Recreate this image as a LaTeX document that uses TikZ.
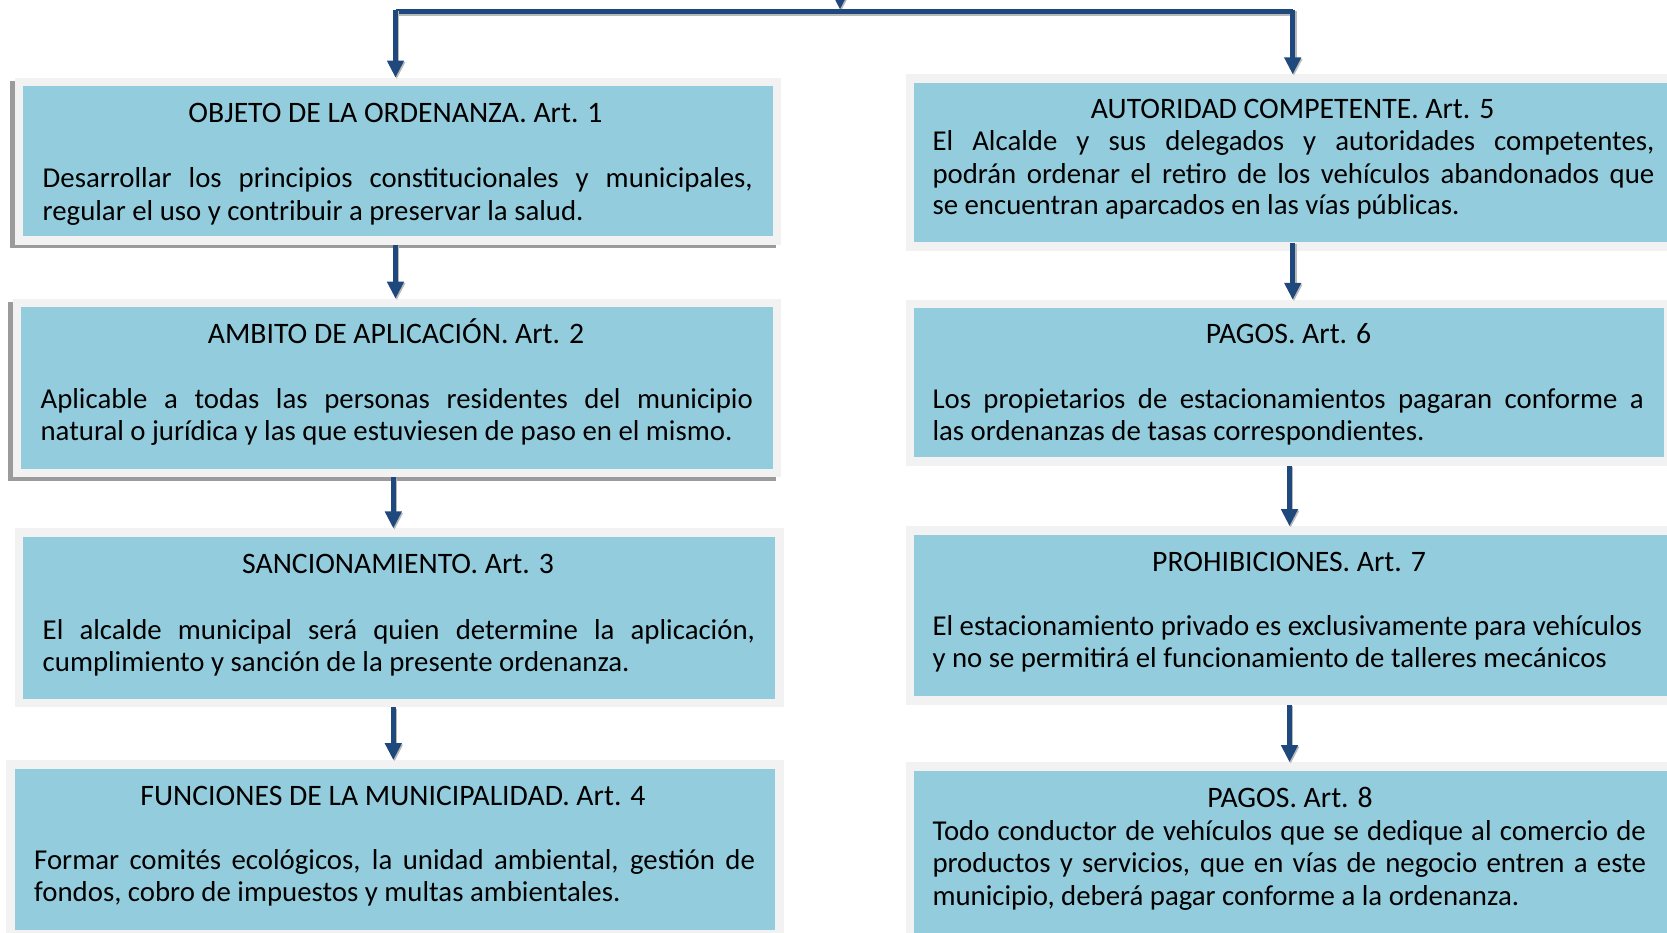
\documentclass[tikz,border=0pt]{standalone}
\usepackage{fontspec}
\setmainfont{Carlito}
\usetikzlibrary{arrows.meta}
\definecolor{boxblue}{RGB}{147,205,221}
\definecolor{framegray}{RGB}{242,242,242}
\definecolor{shadowgray}{RGB}{155,155,155}
\definecolor{arrowblue}{RGB}{31,73,125}
\begin{document}
\begin{tikzpicture}[x=1pt,y=-1pt,
  box/.style={rectangle, fill=boxblue, draw=framegray, line width=8.5pt, inner sep=0pt},
  shadowbox/.style={rectangle, fill=shadowgray, inner sep=0pt, outer sep=0pt},
  ttl/.style={font=\fontsize{29.7}{34}\selectfont, inner sep=0pt, anchor=mid, yshift=-8.5pt},
  txt/.style={font=\fontsize{28.8}{34}\selectfont, inner sep=0pt, anchor=mid west, yshift=-8.5pt},
  arr/.style={draw=arrowblue, line width=5.5pt, -{Triangle[width=16pt,length=17pt]},
    preaction={draw=shadowgray!70, line width=5.5pt, -{Triangle[width=16pt,length=17pt]}, transform canvas={shift={(1.2pt,-1.5pt)}}}},
  bar/.style={draw=arrowblue, line width=5pt,
    preaction={draw=shadowgray!70, line width=5pt, transform canvas={shift={(1.2pt,-2pt)}}}},
  ]
\useasboundingbox (0,0) rectangle (1667,932);

% column coordinates
\coordinate (cL1) at (395.5,0);
\coordinate (cL2) at (393.3,0);
\coordinate (cR1) at (1292.7,0);
\coordinate (cR2) at (1289.5,0);
\coordinate (src) at (840,-30);
\coordinate (tip0) at (840,9.5);
\coordinate (bar) at (840,11.7);

% shadows of boxes 1 and 2
\node[shadowbox, minimum width=766.5pt, minimum height=166.9pt] (s1) at (393.2,164.6) {};
\node[shadowbox, minimum width=768.6pt, minimum height=178.6pt] (s2) at (392.1,391.5) {};

% boxes
\node[box, minimum width=758pt, minimum height=158.4pt] (f1) at (398.2,161.1) {};
\node[box, minimum width=760.1pt, minimum height=170.1pt] (f2) at (397.1,388) {};
\node[box, minimum width=760.1pt, minimum height=170.1pt] (f3) at (399.2,617.7) {};
\node[box, minimum width=768.6pt, minimum height=170.1pt] (f4) at (395,849.4) {};
\node[box, minimum width=774.2pt, minimum height=168pt] (f5) at (1297.2,162.65) {};
\node[box, minimum width=758pt, minimum height=157.3pt] (f6) at (1289.05,382.7) {};
\node[box, minimum width=774.2pt, minimum height=170.1pt] (f7) at (1297.2,615.5) {};
\node[box, minimum width=774.2pt, minimum height=182.8pt] (f8) at (1297.2,857.85) {};

% connectors
\draw[arr] (src) -- (tip0);
\draw[bar] (cL1 |- bar) -- (cR1 |- bar);
\draw[arr] ([yshift=2pt]cL1 |- bar) -- (f1.north -| cL1);
\draw[arr] ([yshift=2pt]cR1 |- bar) -- (f5.north -| cR1);
\draw[arr] (f1.south -| cL1) -- (f2.north -| cL1);
\draw[arr] (f2.south -| cL2) -- (f3.north -| cL2);
\draw[arr] (f3.south -| cL2) -- (f4.north -| cL2);
\draw[arr] ([yshift=8pt]f5.south -| cR1) -- (f6.north -| cR1);
\draw[arr] (f6.south -| cR2) -- (f7.north -| cR2);
\draw[arr] (f7.south -| cR2) -- (f8.north -| cR2);

% box 1
\node[ttl] (h1) at (395.5,111.6) {OBJETO DE LA ORDENANZA. Art. 1};
\node[txt] (t1a) at (42.5,176.5) {\makebox[710.2pt][s]{Desarrollar los principios constitucionales y municipales,}};
\node[txt] (t1b) at (42.5,209.4) {regular el uso y contribuir a preservar la salud.};
% box 2
\node[ttl] (h2) at (396,332.8) {AMBITO DE APLICACIÓN. Art. 2};
\node[txt] (t2a) at (40.4,397.6) {\makebox[712.3pt][s]{Aplicable a todas las personas residentes del municipio}};
\node[txt] (t2b) at (40.4,429.5) {natural o jurídica y las que estuviesen de paso en el mismo.};
% box 3
\node[ttl] (h3) at (398,562.4) {SANCIONAMIENTO. Art. 3};
\node[txt] (t3a) at (42.5,628.3) {\makebox[712.3pt][s]{El alcalde municipal será quien determine la aplicación,}};
\node[txt] (t3b) at (42.5,660.2) {cumplimiento y sanción de la presente ordenanza.};
% box 4
\node[ttl] (h4) at (393,794.1) {FUNCIONES DE LA MUNICIPALIDAD. Art. 4};
\node[txt] (t4a) at (34,859) {\makebox[720.8pt][s]{Formar comités ecológicos, la unidad ambiental, gestión de}};
\node[txt] (t4b) at (34,890.9) {fondos, cobro de impuestos y multas ambientales.};
% box 5
\node[ttl] (h5) at (1292.7,107.4) {AUTORIDAD COMPETENTE. Art. 5};
\node[txt] (t5a) at (932.3,139.3) {\makebox[721.9pt][s]{El Alcalde y sus delegados y autoridades competentes,}};
\node[txt] (t5b) at (932.3,172.2) {\makebox[721.9pt][s]{podrán ordenar el retiro de los vehículos abandonados que}};
\node[txt] (t5c) at (932.3,204.1) {se encuentran aparcados en las vías públicas.};
% box 6
\node[ttl] (h6) at (1288.5,332.8) {PAGOS. Art. 6};
\node[txt] (t6a) at (932.3,397.6) {\makebox[711.3pt][s]{Los propietarios de estacionamientos pagaran conforme a}};
\node[txt] (t6b) at (932.3,429.5) {las ordenanzas de tasas correspondientes.};
% box 7
\node[ttl] (h7) at (1289,560.3) {PROHIBICIONES. Art. 7};
\node[txt] (t7a) at (932.3,625.1) {El estacionamiento privado es exclusivamente para vehículos};
\node[txt] (t7b) at (932.3,657) {y no se permitirá el funcionamiento de talleres mecánicos};
% box 8
\node[ttl] (h8) at (1290,796.3) {PAGOS. Art. 8};
\node[txt] (t8a) at (932.3,829.2) {\makebox[713.4pt][s]{Todo conductor de vehículos que se dedique al comercio de}};
\node[txt] (t8b) at (932.3,861.1) {\makebox[713.4pt][s]{productos y servicios, que en vías de negocio entren a este}};
\node[txt] (t8c) at (932.3,894.1) {municipio, deberá pagar conforme a la ordenanza.};
\end{tikzpicture}
\end{document}
